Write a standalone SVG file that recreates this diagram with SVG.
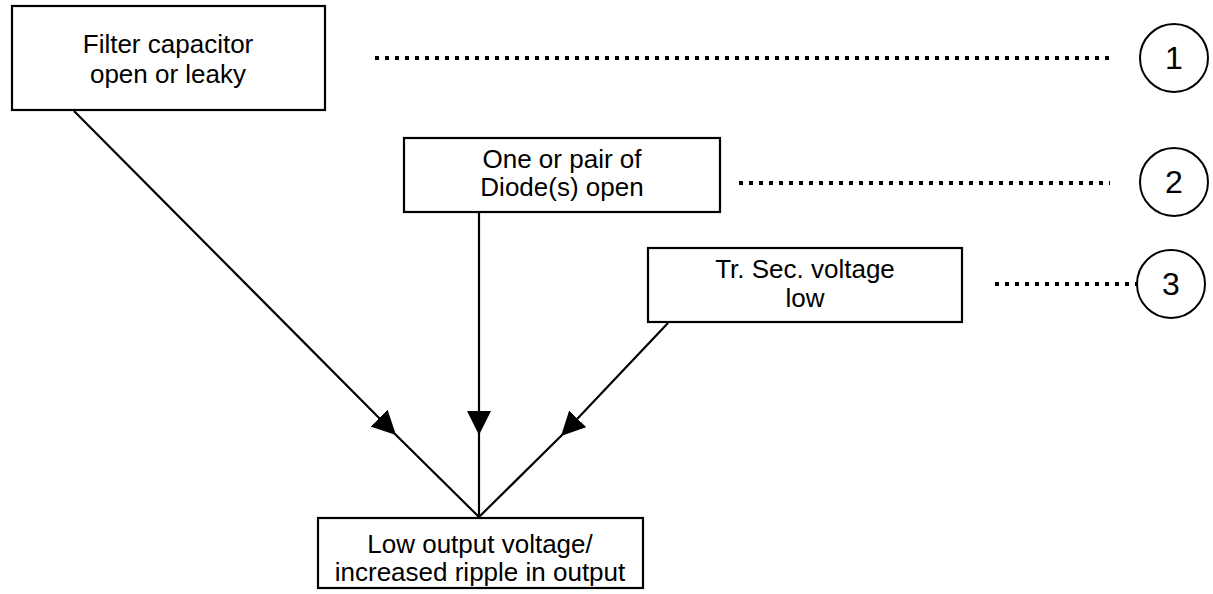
<svg xmlns="http://www.w3.org/2000/svg" width="1213" height="594" viewBox="0 0 1213 594">
<defs>
<style>
.box{fill:#fff;stroke:#000;stroke-width:2.2}
.t{font-family:"Liberation Sans",Arial,sans-serif;font-size:26px;fill:#000;text-anchor:middle}
.n{font-family:"Liberation Sans",Arial,sans-serif;font-size:32px;fill:#000;text-anchor:middle}
.dot{stroke:#000;stroke-width:4;stroke-dasharray:4 6;fill:none}
.c{fill:#fff;stroke:#000;stroke-width:2}
.conn{stroke:#000;stroke-width:2.2;fill:none;marker-mid:url(#ah)}
</style>
<marker id="ah" viewBox="0 0 24 24" refX="24" refY="12" markerWidth="24" markerHeight="24" markerUnits="userSpaceOnUse" orient="auto">
<path d="M0,0 L24,12 L0,24 Z" fill="#000"/>
</marker>
</defs>
<g id="connectors">
<path class="conn" d="M74,111 L396,435 L479,517"/>
<path class="conn" d="M479,212 L479,435 L479,517"/>
<path class="conn" d="M668,323 L561,436 L479,517"/>
<path class="dot" d="M375,58 H1112"/>
<path class="dot" d="M739,183 H1110"/>
<path class="dot" d="M995,284 H1138"/>
</g>
<g id="node-filter">
<rect class="box" x="12" y="6" width="313" height="104"/>
<text class="t" x="168" y="53">Filter capacitor</text>
<text class="t" x="168" y="83">open or leaky</text>
</g>
<g id="node-diode">
<rect class="box" x="404" y="138" width="316" height="74"/>
<text class="t" x="562" y="168">One or pair of</text>
<text class="t" x="562" y="196">Diode(s) open</text>
</g>
<g id="node-tr">
<rect class="box" x="648" y="248" width="314" height="74"/>
<text class="t" x="805" y="278">Tr. Sec. voltage</text>
<text class="t" x="805" y="307">low</text>
</g>
<g id="node-output">
<rect class="box" x="318" y="518" width="325" height="70"/>
<text class="t" x="480" y="553">Low output voltage/</text>
<text class="t" x="480" y="581">increased ripple in output</text>
</g>
<g id="circle-1">
<circle class="c" cx="1174" cy="58" r="34"/>
<text class="n" x="1174" y="69">1</text>
</g>
<g id="circle-2">
<circle class="c" cx="1174" cy="182" r="34"/>
<text class="n" x="1174" y="193">2</text>
</g>
<g id="circle-3">
<circle class="c" cx="1171" cy="284" r="34"/>
<text class="n" x="1171" y="295">3</text>
</g>
</svg>
